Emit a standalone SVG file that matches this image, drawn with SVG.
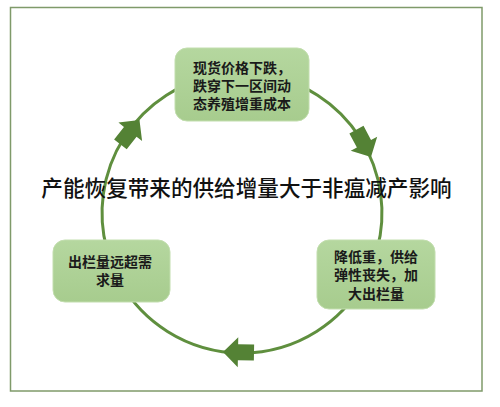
<svg xmlns="http://www.w3.org/2000/svg" width="500" height="407" viewBox="0 0 500 407">
<defs>
<linearGradient id="boxFill" x1="0" y1="0" x2="0" y2="1">
<stop offset="0" stop-color="#b5d79f"/>
<stop offset="1" stop-color="#a7cc8e"/>
</linearGradient>
<polygon id="arrow" points="0,0 -15,-15 -15,-8 -31,-8 -31,8 -15,8 -15,15"/>
<style>
.frame{fill:#ffffff;stroke:#7f9a6a;stroke-width:1.5}
.arc{fill:none;stroke:#5f8f3e;stroke-width:3}
.head{fill:#548235}
.box{fill:url(#boxFill);stroke:#c2deae;stroke-width:1}
.lbl{font-family:"Noto Sans CJK SC","Noto Sans",sans-serif;font-size:14px;font-weight:bold;fill:#1a1a1a;text-anchor:middle}
.title{font-family:"Noto Sans CJK SC","Noto Sans",sans-serif;font-size:21.6px;font-weight:500;fill:#111111;text-anchor:middle}
</style>
</defs>
<rect class="frame" x="10.5" y="7.5" width="471.5" height="383.5"/>
<g id="connectors">
<path class="arc" d="M 266.3 75.1 A 140 140 0 0 1 377.2 249.2"/>
<path class="arc" d="M 363.2 283 A 140 140 0 0 1 120.8 283"/>
<path class="arc" d="M 106.8 249.2 A 140 140 0 0 1 217.7 75.1"/>
<use href="#arrow" class="head" transform="translate(371,157) rotate(62)"/>
<use href="#arrow" class="head" transform="translate(223,352) rotate(181)"/>
<use href="#arrow" class="head" transform="translate(139.5,120) rotate(-52)"/>
</g>
<g id="title">
<text class="title" x="246.5" y="195.5">产能恢复带来的供给增量大于非瘟减产影响</text>
</g>
<g id="node-top">
<rect class="box" x="175" y="48" width="134" height="73" rx="12"/>
<text class="lbl" x="242" y="72.5">现货价格下跌，</text>
<text class="lbl" x="242" y="90.8">跌穿下一区间动</text>
<text class="lbl" x="242" y="109.1">态养殖增重成本</text>
</g>
<g id="node-right">
<rect class="box" x="317" y="240" width="118" height="69" rx="12"/>
<text class="lbl" x="376" y="262">降低重，供给</text>
<text class="lbl" x="376" y="280.3">弹性丧失，加</text>
<text class="lbl" x="376" y="298.6">大出栏量</text>
</g>
<g id="node-left">
<rect class="box" x="53" y="240" width="117" height="62" rx="12"/>
<text class="lbl" x="110" y="266.5">出栏量远超需</text>
<text class="lbl" x="110" y="284.8">求量</text>
</g>
</svg>
